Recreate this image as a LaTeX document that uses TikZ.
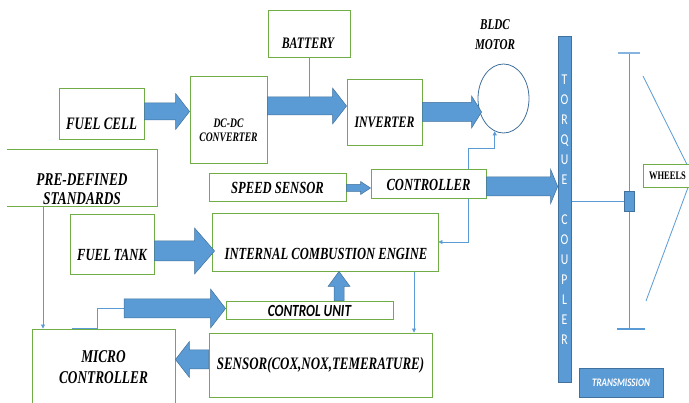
\documentclass[tikz,border=0pt]{standalone}
\usepackage{fontspec}
\usetikzlibrary{calc,shapes.geometric,arrows.meta}
\newfontfamily\serifc[FakeStretch=0.74]{Liberation Serif}
\newfontfamily\sansc[FakeStretch=0.78]{Carlito}
\definecolor{boxgreen}{HTML}{70AD47}
\definecolor{arrowfill}{HTML}{5B9BD5}
\definecolor{arrowedge}{HTML}{41719C}
\definecolor{lineblue}{HTML}{5B9BD5}
\pgfdeclarelayer{bg}
\pgfsetlayers{bg,main}

\tikzset{
  box/.style={draw=boxgreen, line width=0.9pt, fill=white, inner sep=0pt},
  bluebox/.style={draw=arrowedge, fill=arrowfill, line width=0.6pt, inner sep=0pt},
  bi/.style 2 args={font=\serifc\bfseries\itshape\fontsize{#1}{#2}\selectfont, inner sep=0pt, align=center},
  conn/.style={draw=lineblue, line width=0.8pt},
  endtip/.style={-{Triangle[length=4pt,width=4pt]}},
  % filled block arrow: shaft half-width, head half-width, head length
  blockarrow/.style n args={3}{draw=arrowedge, line width=0.5pt, fill=arrowfill,
    to path={($(\tikztostart)!#1!90:(\tikztotarget)$)
      -- ($($(\tikztotarget)!#3!(\tikztostart)$)!#1!90:(\tikztotarget)$)
      -- ($($(\tikztotarget)!#3!(\tikztostart)$)!#2!90:(\tikztotarget)$)
      -- (\tikztotarget)
      -- ($($(\tikztotarget)!#3!(\tikztostart)$)!#2!-90:(\tikztotarget)$)
      -- ($($(\tikztotarget)!#3!(\tikztostart)$)!#1!-90:(\tikztotarget)$)
      -- ($(\tikztostart)!#1!-90:(\tikztotarget)$) -- cycle}}
}

\begin{document}
\begin{tikzpicture}[x=1pt,y=-1pt]
\useasboundingbox (0,0) rectangle (689,403);
\begin{pgfonlayer}{bg}
  \fill[white] (0,0) rectangle (689,403);
\end{pgfonlayer}

% boxes
\node[box, minimum width=82pt, minimum height=47pt] (battery) at (309,33.5) {};
\node[box, minimum width=85pt, minimum height=51pt] (fc) at (101.5,113.5) {};
\node[box, minimum width=77pt, minimum height=87pt] (dcdc) at (228.5,119.5) {};
\node[box, minimum width=75pt, minimum height=66pt] (inv) at (384.5,112) {};
\node[ellipse, draw=arrowedge, line width=0.8pt, minimum width=51pt, minimum height=69pt, inner sep=0pt] (motor) at (503.5,98.5) {};
\node[inner sep=0pt, minimum width=150pt, minimum height=56pt] (predef) at (82,178) {};
\draw[boxgreen, line width=0.9pt] (predef.north west) -- (predef.north east) -- (predef.south east) -- (predef.south west);
\node[box, minimum width=137pt, minimum height=28pt] (speed) at (277.5,187) {};
\node[box, minimum width=115pt, minimum height=29pt] (ctrl) at (428.5,183.5) {};
\node[box, minimum width=84pt, minimum height=60pt] (tank) at (112,244) {};
\node[box, minimum width=226pt, minimum height=58pt] (ice) at (325,242) {};
\node[box, minimum width=167pt, minimum height=18pt] (cu) at (309.5,310) {};
\node[box, minimum width=143pt, minimum height=77pt] (micro) at (103.5,367.5) {};
\node[box, minimum width=223pt, minimum height=64pt] (sensor) at (320.5,365) {};
\node[bluebox, minimum width=13pt, minimum height=346pt] (coupler) at (564.5,209) {};
\node[bluebox, minimum width=10pt, minimum height=20pt] (hub) at (629,201) {};
\node[box, minimum width=49pt, minimum height=23pt] (wheels) at (667.5,175.5) {};
\node[bluebox, minimum width=84pt, minimum height=29pt] (trans) at (621,382.5) {};

% texts
\node[bi={16}{18}] (batteryT) at ([xshift=-1pt,yshift=-10pt]battery.center) {BATTERY};
\node[bi={17.5}{20}] (fcT) at ([yshift=-10.5pt]fc.center) {FUEL CELL};
\node[bi={13}{14}] (dcdcT) at ([yshift=-11pt]dcdc.center) {DC-DC\\CONVERTER};
\node[bi={16}{18}] (invT) at ([yshift=-10pt]inv.center) {INVERTER};
\node[bi={15}{20}] (motorT) at ([xshift=-8.5pt,yshift=63.5pt]motor.center) {BLDC\\MOTOR};
\node[bi={18}{19}] (predefT) at ([yshift=-11pt]predef.center) {PRE-DEFINED\\STANDARDS};
\node[bi={17}{19}] (speedT) at ([yshift=-0.5pt]speed.center) {SPEED SENSOR};
\node[bi={17}{19}] (ctrlT) at ([yshift=-1.5pt]ctrl.center) {CONTROLLER};
\node[bi={17}{19}] (tankT) at ([yshift=-11pt]tank.center) {FUEL TANK};
\node[bi={17}{19}] (iceT) at ([xshift=1pt,yshift=-11.5pt]ice.center) {INTERNAL COMBUSTION ENGINE};
\node[font=\sansc\bfseries\itshape\fontsize{17}{19}\selectfont, inner sep=0pt] (cuT) at ([yshift=-0.5pt]cu.center) {CONTROL UNIT};
\node[bi={18}{21}] (microT) at (micro.center) {MICRO\\CONTROLLER};
\node[bi={17.5}{20}] (sensorT) at ([yshift=-0.5pt]sensor.center) {SENSOR(COX,NOX,TEMERATURE)};
\node[font=\serifc\bfseries\fontsize{11.5}{12}\selectfont, inner sep=0pt] (wheelsT) at (wheels.center) {WHEELS};
\node[font=\sansc\bfseries\itshape\fontsize{11.5}{13}\selectfont, text=white, inner sep=0pt] (transT) at (trans.center) {TRANSMISSION};
\node[font=\sansc\fontsize{15}{20}\selectfont, text=white, align=center, inner sep=0pt] (couplerT) at ([yshift=-1pt]coupler.center) {T\\O\\R\\Q\\U\\E\\[20pt]C\\O\\U\\P\\L\\E\\R};

% end points of the block arrows
\coordinate (a1s) at ([yshift=2pt]fc.east);
\coordinate (a1e) at (dcdc.west |- a1s);
\coordinate (a2s) at ([yshift=13.5pt]dcdc.east);
\coordinate (a2e) at (inv.west |- a2s);
\coordinate (a3s) at (inv.east);
\coordinate (a3e) at ($(motor.west |- inv.east)+(4,0)$);
\coordinate (a4s) at ([yshift=-1pt]speed.east);
\coordinate (a4e) at (ctrl.west |- a4s);
\coordinate (a5s) at ([yshift=-3pt]ctrl.east);
\coordinate (a5e) at (coupler.west |- a5s);
\coordinate (a6s) at ([yshift=-7pt]tank.east);
\coordinate (a6e) at ($(ice.west |- a6s)+(3,0)$);
\coordinate (a7s) at ([xshift=29.5pt]cu.north);
\coordinate (a7e) at (ice.south -| a7s);
\coordinate (a8s) at (124,308.5);
\coordinate (a8e) at (cu.west |- a8s);
\coordinate (a9s) at ([yshift=5.5pt]sensor.west);
\coordinate (a9e) at (micro.east |- a9s);

% thin connectors
\coordinate (iceout) at ([xshift=89pt]ice.south);
\coordinate (pdout) at ([xshift=-39pt]predef.south);
\coordinate (mcA) at ([xshift=-31.5pt]micro.north);
\coordinate (mcB) at ([xshift=-6.5pt]micro.north);
\coordinate (axtop) at (629,53);
\coordinate (axbot) at (629,329);
\coordinate (wtop) at (643,76);
\coordinate (wbot) at (646,301);
\begin{pgfonlayer}{bg}
  \draw[conn] (battery.south) -- (battery.south |- a2s);
  \draw[conn,endtip] ([xshift=39.5pt]ctrl.north) -- ++(0,-20) -| (motor.-105);
  \draw[conn,endtip] ([xshift=39.5pt]ctrl.south) |- (ice.east);
  \draw[conn,endtip] (iceout) -- (iceout |- sensor.north);
  \draw[conn,endtip] (pdout) -- (pdout |- micro.north);
  \draw[conn] (mcA) -- (mcB) |- (a8s);
  \draw[conn] (coupler.east |- hub.west) -- (hub.west);
  \draw[conn] (axtop) -- (hub.north);
  \draw[conn] (hub.south) -- (axbot);
  \draw[conn, line width=1.5pt, draw=lineblue!75] ([xshift=-11pt]axtop) -- ([xshift=11pt]axtop);
  \draw[conn, line width=1.2pt] ([xshift=-12pt]axbot) -- ([xshift=16pt]axbot);
  \draw[conn] (wtop) -- (wheels.east);
  \draw[conn] (wbot) -- (wheels.east);
\end{pgfonlayer}

% block arrows
\draw[blockarrow={8.5pt}{18pt}{14pt}] (a1s) to (a1e);
\draw[blockarrow={9pt}{18pt}{14pt}] (a2s) to (a2e);
\draw[blockarrow={9.5pt}{16pt}{10pt}] (a3s) to (a3e);
\draw[blockarrow={3.5pt}{6.5pt}{10pt}] (a4s) to (a4e);
\draw[blockarrow={9.5pt}{17pt}{7pt}] (a5s) to (a5e);
\draw[blockarrow={10pt}{23pt}{20pt}] (a6s) to (a6e);
\draw[blockarrow={5pt}{11pt}{15pt}] (a7s) to (a7e);
\draw[blockarrow={9.5pt}{19.5pt}{15pt}] (a8s) to (a8e);
\draw[blockarrow={9.5pt}{18pt}{14pt}] (a9s) to (a9e);
\end{tikzpicture}
\end{document}
